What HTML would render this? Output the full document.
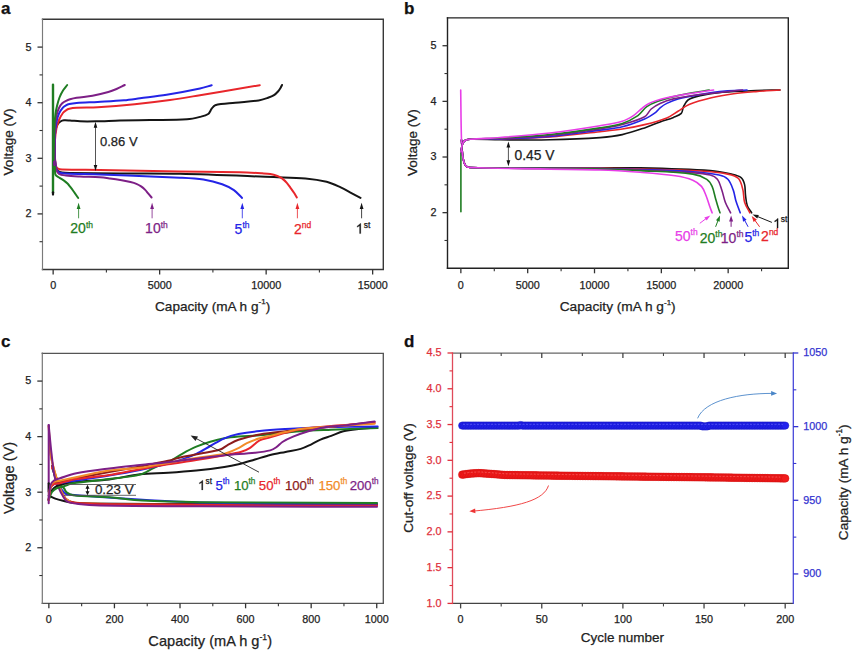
<!DOCTYPE html>
<html><head><meta charset="utf-8"><style>
html,body{margin:0;padding:0;background:#fff;}
svg{display:block;font-family:"Liberation Sans", sans-serif;}
</style></head><body>
<svg width="853" height="651" viewBox="0 0 853 651">
<rect width="853" height="651" fill="#fff"/>
<path d="M42.50,269.50 L383.30,269.50 L383.30,19.30 L42.50,19.30" fill="none" stroke="#383838" stroke-width="1.4" stroke-linejoin="miter" stroke-linecap="square"/>
<line x1="42.50" y1="18.60" x2="42.50" y2="270.20" stroke="#7a7a7a" stroke-width="1.15"/>
<line x1="37.50" y1="213.90" x2="42.50" y2="213.90" stroke="#333" stroke-width="1.3"/>
<text x="31.50" y="217.30" font-size="10.8" text-anchor="end" fill="#222" stroke="#222" stroke-width="0.25" font-weight="normal" >2</text>
<line x1="37.50" y1="158.30" x2="42.50" y2="158.30" stroke="#333" stroke-width="1.3"/>
<text x="31.50" y="161.70" font-size="10.8" text-anchor="end" fill="#222" stroke="#222" stroke-width="0.25" font-weight="normal" >3</text>
<line x1="37.50" y1="102.70" x2="42.50" y2="102.70" stroke="#333" stroke-width="1.3"/>
<text x="31.50" y="106.10" font-size="10.8" text-anchor="end" fill="#222" stroke="#222" stroke-width="0.25" font-weight="normal" >4</text>
<line x1="37.50" y1="47.10" x2="42.50" y2="47.10" stroke="#333" stroke-width="1.3"/>
<text x="31.50" y="50.50" font-size="10.8" text-anchor="end" fill="#222" stroke="#222" stroke-width="0.25" font-weight="normal" >5</text>
<line x1="39.50" y1="241.70" x2="42.50" y2="241.70" stroke="#333" stroke-width="1.1"/>
<line x1="39.50" y1="186.10" x2="42.50" y2="186.10" stroke="#333" stroke-width="1.1"/>
<line x1="39.50" y1="130.50" x2="42.50" y2="130.50" stroke="#333" stroke-width="1.1"/>
<line x1="39.50" y1="74.90" x2="42.50" y2="74.90" stroke="#333" stroke-width="1.1"/>
<line x1="53.15" y1="269.50" x2="53.15" y2="274.50" stroke="#333" stroke-width="1.3"/>
<text x="53.15" y="288.90" font-size="10.8" text-anchor="middle" fill="#222" stroke="#222" stroke-width="0.25" font-weight="normal" >0</text>
<line x1="159.65" y1="269.50" x2="159.65" y2="274.50" stroke="#333" stroke-width="1.3"/>
<text x="159.65" y="288.90" font-size="10.8" text-anchor="middle" fill="#222" stroke="#222" stroke-width="0.25" font-weight="normal" >5000</text>
<line x1="266.15" y1="269.50" x2="266.15" y2="274.50" stroke="#333" stroke-width="1.3"/>
<text x="266.15" y="288.90" font-size="10.8" text-anchor="middle" fill="#222" stroke="#222" stroke-width="0.25" font-weight="normal" >10000</text>
<line x1="372.65" y1="269.50" x2="372.65" y2="274.50" stroke="#333" stroke-width="1.3"/>
<text x="372.65" y="288.90" font-size="10.8" text-anchor="middle" fill="#222" stroke="#222" stroke-width="0.25" font-weight="normal" >15000</text>
<line x1="106.40" y1="269.50" x2="106.40" y2="272.50" stroke="#333" stroke-width="1.1"/>
<line x1="212.90" y1="269.50" x2="212.90" y2="272.50" stroke="#333" stroke-width="1.1"/>
<line x1="319.40" y1="269.50" x2="319.40" y2="272.50" stroke="#333" stroke-width="1.1"/>
<text x="212.60" y="310.60" font-size="13.6" text-anchor="middle" fill="#222" stroke="#222" stroke-width="0.25" font-weight="normal" >Capacity (mA h g<tspan font-size="8" dy="-6.2">-1</tspan><tspan dy="6.2">)</tspan></text>
<text x="13.20" y="142.00" font-size="13.5" text-anchor="middle" fill="#222" stroke="#222" stroke-width="0.25" font-weight="normal" transform="rotate(-90 13.2 142)">Voltage (V)</text>
<text x="1.00" y="13.60" font-size="17" text-anchor="start" fill="#111" stroke="#111" stroke-width="0.25" font-weight="bold" >a</text>
<path d="M447.50,268.30 L788.30,268.30 L788.30,17.90 L447.50,17.90" fill="none" stroke="#222" stroke-width="1.4" stroke-linejoin="miter" stroke-linecap="square"/>
<line x1="447.50" y1="17.20" x2="447.50" y2="269.00" stroke="#222" stroke-width="1.4"/>
<line x1="442.50" y1="212.66" x2="447.50" y2="212.66" stroke="#333" stroke-width="1.3"/>
<text x="436.50" y="216.06" font-size="10.8" text-anchor="end" fill="#222" stroke="#222" stroke-width="0.25" font-weight="normal" >2</text>
<line x1="442.50" y1="157.01" x2="447.50" y2="157.01" stroke="#333" stroke-width="1.3"/>
<text x="436.50" y="160.41" font-size="10.8" text-anchor="end" fill="#222" stroke="#222" stroke-width="0.25" font-weight="normal" >3</text>
<line x1="442.50" y1="101.37" x2="447.50" y2="101.37" stroke="#333" stroke-width="1.3"/>
<text x="436.50" y="104.77" font-size="10.8" text-anchor="end" fill="#222" stroke="#222" stroke-width="0.25" font-weight="normal" >4</text>
<line x1="442.50" y1="45.72" x2="447.50" y2="45.72" stroke="#333" stroke-width="1.3"/>
<text x="436.50" y="49.12" font-size="10.8" text-anchor="end" fill="#222" stroke="#222" stroke-width="0.25" font-weight="normal" >5</text>
<line x1="444.50" y1="240.48" x2="447.50" y2="240.48" stroke="#333" stroke-width="1.1"/>
<line x1="444.50" y1="184.83" x2="447.50" y2="184.83" stroke="#333" stroke-width="1.1"/>
<line x1="444.50" y1="129.19" x2="447.50" y2="129.19" stroke="#333" stroke-width="1.1"/>
<line x1="444.50" y1="73.54" x2="447.50" y2="73.54" stroke="#333" stroke-width="1.1"/>
<line x1="460.86" y1="268.30" x2="460.86" y2="273.30" stroke="#333" stroke-width="1.3"/>
<text x="460.86" y="288.90" font-size="10.8" text-anchor="middle" fill="#222" stroke="#222" stroke-width="0.25" font-weight="normal" >0</text>
<line x1="527.69" y1="268.30" x2="527.69" y2="273.30" stroke="#333" stroke-width="1.3"/>
<text x="527.69" y="288.90" font-size="10.8" text-anchor="middle" fill="#222" stroke="#222" stroke-width="0.25" font-weight="normal" >5000</text>
<line x1="594.51" y1="268.30" x2="594.51" y2="273.30" stroke="#333" stroke-width="1.3"/>
<text x="594.51" y="288.90" font-size="10.8" text-anchor="middle" fill="#222" stroke="#222" stroke-width="0.25" font-weight="normal" >10000</text>
<line x1="661.34" y1="268.30" x2="661.34" y2="273.30" stroke="#333" stroke-width="1.3"/>
<text x="661.34" y="288.90" font-size="10.8" text-anchor="middle" fill="#222" stroke="#222" stroke-width="0.25" font-weight="normal" >15000</text>
<line x1="728.16" y1="268.30" x2="728.16" y2="273.30" stroke="#333" stroke-width="1.3"/>
<text x="728.16" y="288.90" font-size="10.8" text-anchor="middle" fill="#222" stroke="#222" stroke-width="0.25" font-weight="normal" >20000</text>
<line x1="494.28" y1="268.30" x2="494.28" y2="271.30" stroke="#333" stroke-width="1.1"/>
<line x1="561.10" y1="268.30" x2="561.10" y2="271.30" stroke="#333" stroke-width="1.1"/>
<line x1="627.92" y1="268.30" x2="627.92" y2="271.30" stroke="#333" stroke-width="1.1"/>
<line x1="694.75" y1="268.30" x2="694.75" y2="271.30" stroke="#333" stroke-width="1.1"/>
<line x1="761.57" y1="268.30" x2="761.57" y2="271.30" stroke="#333" stroke-width="1.1"/>
<text x="617.70" y="311.00" font-size="13.7" text-anchor="middle" fill="#222" stroke="#222" stroke-width="0.25" font-weight="normal" >Capacity (mA h g<tspan font-size="8" dy="-6.2">-1</tspan><tspan dy="6.2">)</tspan></text>
<text x="416.80" y="142.60" font-size="13.5" text-anchor="middle" fill="#222" stroke="#222" stroke-width="0.25" font-weight="normal" transform="rotate(-90 416.8 142.6)">Voltage (V)</text>
<text x="404.00" y="13.80" font-size="17" text-anchor="start" fill="#111" stroke="#111" stroke-width="0.25" font-weight="bold" >b</text>
<path d="M42.30,603.30 L383.30,603.30 L383.30,353.30 L42.30,353.30" fill="none" stroke="#555" stroke-width="1.35" stroke-linejoin="miter" stroke-linecap="square"/>
<line x1="42.30" y1="352.62" x2="42.30" y2="603.97" stroke="#707070" stroke-width="1.15"/>
<line x1="37.30" y1="547.74" x2="42.30" y2="547.74" stroke="#333" stroke-width="1.3"/>
<text x="31.30" y="551.14" font-size="10.8" text-anchor="end" fill="#222" stroke="#222" stroke-width="0.25" font-weight="normal" >2</text>
<line x1="37.30" y1="492.19" x2="42.30" y2="492.19" stroke="#333" stroke-width="1.3"/>
<text x="31.30" y="495.59" font-size="10.8" text-anchor="end" fill="#222" stroke="#222" stroke-width="0.25" font-weight="normal" >3</text>
<line x1="37.30" y1="436.63" x2="42.30" y2="436.63" stroke="#333" stroke-width="1.3"/>
<text x="31.30" y="440.03" font-size="10.8" text-anchor="end" fill="#222" stroke="#222" stroke-width="0.25" font-weight="normal" >4</text>
<line x1="37.30" y1="381.08" x2="42.30" y2="381.08" stroke="#333" stroke-width="1.3"/>
<text x="31.30" y="384.48" font-size="10.8" text-anchor="end" fill="#222" stroke="#222" stroke-width="0.25" font-weight="normal" >5</text>
<line x1="39.30" y1="575.52" x2="42.30" y2="575.52" stroke="#333" stroke-width="1.1"/>
<line x1="39.30" y1="519.97" x2="42.30" y2="519.97" stroke="#333" stroke-width="1.1"/>
<line x1="39.30" y1="464.41" x2="42.30" y2="464.41" stroke="#333" stroke-width="1.1"/>
<line x1="39.30" y1="408.86" x2="42.30" y2="408.86" stroke="#333" stroke-width="1.1"/>
<line x1="48.86" y1="603.30" x2="48.86" y2="608.30" stroke="#333" stroke-width="1.3"/>
<text x="48.86" y="623.30" font-size="10.8" text-anchor="middle" fill="#222" stroke="#222" stroke-width="0.25" font-weight="normal" >0</text>
<line x1="114.43" y1="603.30" x2="114.43" y2="608.30" stroke="#333" stroke-width="1.3"/>
<text x="114.43" y="623.30" font-size="10.8" text-anchor="middle" fill="#222" stroke="#222" stroke-width="0.25" font-weight="normal" >200</text>
<line x1="180.01" y1="603.30" x2="180.01" y2="608.30" stroke="#333" stroke-width="1.3"/>
<text x="180.01" y="623.30" font-size="10.8" text-anchor="middle" fill="#222" stroke="#222" stroke-width="0.25" font-weight="normal" >400</text>
<line x1="245.59" y1="603.30" x2="245.59" y2="608.30" stroke="#333" stroke-width="1.3"/>
<text x="245.59" y="623.30" font-size="10.8" text-anchor="middle" fill="#222" stroke="#222" stroke-width="0.25" font-weight="normal" >600</text>
<line x1="311.17" y1="603.30" x2="311.17" y2="608.30" stroke="#333" stroke-width="1.3"/>
<text x="311.17" y="623.30" font-size="10.8" text-anchor="middle" fill="#222" stroke="#222" stroke-width="0.25" font-weight="normal" >800</text>
<line x1="376.74" y1="603.30" x2="376.74" y2="608.30" stroke="#333" stroke-width="1.3"/>
<text x="376.74" y="623.30" font-size="10.8" text-anchor="middle" fill="#222" stroke="#222" stroke-width="0.25" font-weight="normal" >1000</text>
<line x1="81.65" y1="603.30" x2="81.65" y2="606.30" stroke="#333" stroke-width="1.1"/>
<line x1="147.22" y1="603.30" x2="147.22" y2="606.30" stroke="#333" stroke-width="1.1"/>
<line x1="212.80" y1="603.30" x2="212.80" y2="606.30" stroke="#333" stroke-width="1.1"/>
<line x1="278.38" y1="603.30" x2="278.38" y2="606.30" stroke="#333" stroke-width="1.1"/>
<line x1="343.95" y1="603.30" x2="343.95" y2="606.30" stroke="#333" stroke-width="1.1"/>
<text x="210.20" y="646.30" font-size="14.6" text-anchor="middle" fill="#222" stroke="#222" stroke-width="0.25" font-weight="normal" >Capacity (mA h g<tspan font-size="8.6" dy="-6">-1</tspan><tspan dy="6">)</tspan></text>
<text x="13.60" y="477.90" font-size="14.6" text-anchor="middle" fill="#222" stroke="#222" stroke-width="0.25" font-weight="normal" transform="rotate(-90 13.6 477.9)">Voltage (V)</text>
<text x="1.00" y="346.70" font-size="17" text-anchor="start" fill="#111" stroke="#111" stroke-width="0.25" font-weight="bold" >c</text>
<line x1="452.50" y1="353.00" x2="793.30" y2="353.00" stroke="#666" stroke-width="1.25"/>
<line x1="452.50" y1="603.40" x2="793.30" y2="603.40" stroke="#444" stroke-width="1.3"/>
<line x1="452.50" y1="352.30" x2="452.50" y2="604.10" stroke="#e04a5a" stroke-width="1.3"/>
<line x1="793.30" y1="352.30" x2="793.30" y2="604.10" stroke="#4040d8" stroke-width="1.25"/>
<line x1="447.50" y1="603.40" x2="452.50" y2="603.40" stroke="#e0303c" stroke-width="1.3"/>
<text x="441.50" y="606.80" font-size="10.8" text-anchor="end" fill="#e0303c" stroke="#e0303c" stroke-width="0.25" font-weight="normal" >1.0</text>
<line x1="449.50" y1="585.51" x2="452.50" y2="585.51" stroke="#e0303c" stroke-width="1.1"/>
<line x1="447.50" y1="567.63" x2="452.50" y2="567.63" stroke="#e0303c" stroke-width="1.3"/>
<text x="441.50" y="571.03" font-size="10.8" text-anchor="end" fill="#e0303c" stroke="#e0303c" stroke-width="0.25" font-weight="normal" >1.5</text>
<line x1="449.50" y1="549.74" x2="452.50" y2="549.74" stroke="#e0303c" stroke-width="1.1"/>
<line x1="447.50" y1="531.86" x2="452.50" y2="531.86" stroke="#e0303c" stroke-width="1.3"/>
<text x="441.50" y="535.26" font-size="10.8" text-anchor="end" fill="#e0303c" stroke="#e0303c" stroke-width="0.25" font-weight="normal" >2.0</text>
<line x1="449.50" y1="513.97" x2="452.50" y2="513.97" stroke="#e0303c" stroke-width="1.1"/>
<line x1="447.50" y1="496.09" x2="452.50" y2="496.09" stroke="#e0303c" stroke-width="1.3"/>
<text x="441.50" y="499.49" font-size="10.8" text-anchor="end" fill="#e0303c" stroke="#e0303c" stroke-width="0.25" font-weight="normal" >2.5</text>
<line x1="449.50" y1="478.20" x2="452.50" y2="478.20" stroke="#e0303c" stroke-width="1.1"/>
<line x1="447.50" y1="460.31" x2="452.50" y2="460.31" stroke="#e0303c" stroke-width="1.3"/>
<text x="441.50" y="463.71" font-size="10.8" text-anchor="end" fill="#e0303c" stroke="#e0303c" stroke-width="0.25" font-weight="normal" >3.0</text>
<line x1="449.50" y1="442.43" x2="452.50" y2="442.43" stroke="#e0303c" stroke-width="1.1"/>
<line x1="447.50" y1="424.54" x2="452.50" y2="424.54" stroke="#e0303c" stroke-width="1.3"/>
<text x="441.50" y="427.94" font-size="10.8" text-anchor="end" fill="#e0303c" stroke="#e0303c" stroke-width="0.25" font-weight="normal" >3.5</text>
<line x1="449.50" y1="406.66" x2="452.50" y2="406.66" stroke="#e0303c" stroke-width="1.1"/>
<line x1="447.50" y1="388.77" x2="452.50" y2="388.77" stroke="#e0303c" stroke-width="1.3"/>
<text x="441.50" y="392.17" font-size="10.8" text-anchor="end" fill="#e0303c" stroke="#e0303c" stroke-width="0.25" font-weight="normal" >4.0</text>
<line x1="449.50" y1="370.89" x2="452.50" y2="370.89" stroke="#e0303c" stroke-width="1.1"/>
<line x1="447.50" y1="353.00" x2="452.50" y2="353.00" stroke="#e0303c" stroke-width="1.3"/>
<text x="441.50" y="356.40" font-size="10.8" text-anchor="end" fill="#e0303c" stroke="#e0303c" stroke-width="0.25" font-weight="normal" >4.5</text>
<line x1="793.30" y1="573.94" x2="798.30" y2="573.94" stroke="#3333d0" stroke-width="1.3"/>
<text x="803.30" y="577.34" font-size="10.8" text-anchor="start" fill="#3333d0" stroke="#3333d0" stroke-width="0.25" font-weight="normal" >900</text>
<line x1="793.30" y1="500.29" x2="798.30" y2="500.29" stroke="#3333d0" stroke-width="1.3"/>
<text x="803.30" y="503.69" font-size="10.8" text-anchor="start" fill="#3333d0" stroke="#3333d0" stroke-width="0.25" font-weight="normal" >950</text>
<line x1="793.30" y1="426.65" x2="798.30" y2="426.65" stroke="#3333d0" stroke-width="1.3"/>
<text x="803.30" y="430.05" font-size="10.8" text-anchor="start" fill="#3333d0" stroke="#3333d0" stroke-width="0.25" font-weight="normal" >1000</text>
<line x1="793.30" y1="353.00" x2="798.30" y2="353.00" stroke="#3333d0" stroke-width="1.3"/>
<text x="803.30" y="356.40" font-size="10.8" text-anchor="start" fill="#3333d0" stroke="#3333d0" stroke-width="0.25" font-weight="normal" >1050</text>
<line x1="793.30" y1="537.12" x2="796.30" y2="537.12" stroke="#3333d0" stroke-width="1.1"/>
<line x1="793.30" y1="463.47" x2="796.30" y2="463.47" stroke="#3333d0" stroke-width="1.1"/>
<line x1="793.30" y1="389.82" x2="796.30" y2="389.82" stroke="#3333d0" stroke-width="1.1"/>
<line x1="460.61" y1="603.40" x2="460.61" y2="608.40" stroke="#444" stroke-width="1.3"/>
<text x="460.61" y="623.30" font-size="10.8" text-anchor="middle" fill="#222" stroke="#222" stroke-width="0.25" font-weight="normal" >0</text>
<line x1="460.61" y1="353.00" x2="460.61" y2="358.00" stroke="#444" stroke-width="1.3"/>
<line x1="541.76" y1="603.40" x2="541.76" y2="608.40" stroke="#444" stroke-width="1.3"/>
<text x="541.76" y="623.30" font-size="10.8" text-anchor="middle" fill="#222" stroke="#222" stroke-width="0.25" font-weight="normal" >50</text>
<line x1="541.76" y1="353.00" x2="541.76" y2="358.00" stroke="#444" stroke-width="1.3"/>
<line x1="622.90" y1="603.40" x2="622.90" y2="608.40" stroke="#444" stroke-width="1.3"/>
<text x="622.90" y="623.30" font-size="10.8" text-anchor="middle" fill="#222" stroke="#222" stroke-width="0.25" font-weight="normal" >100</text>
<line x1="622.90" y1="353.00" x2="622.90" y2="358.00" stroke="#444" stroke-width="1.3"/>
<line x1="704.04" y1="603.40" x2="704.04" y2="608.40" stroke="#444" stroke-width="1.3"/>
<text x="704.04" y="623.30" font-size="10.8" text-anchor="middle" fill="#222" stroke="#222" stroke-width="0.25" font-weight="normal" >150</text>
<line x1="704.04" y1="353.00" x2="704.04" y2="358.00" stroke="#444" stroke-width="1.3"/>
<line x1="785.19" y1="603.40" x2="785.19" y2="608.40" stroke="#444" stroke-width="1.3"/>
<text x="785.19" y="623.30" font-size="10.8" text-anchor="middle" fill="#222" stroke="#222" stroke-width="0.25" font-weight="normal" >200</text>
<line x1="785.19" y1="353.00" x2="785.19" y2="358.00" stroke="#444" stroke-width="1.3"/>
<line x1="501.19" y1="603.40" x2="501.19" y2="606.40" stroke="#444" stroke-width="1.1"/>
<line x1="501.19" y1="353.00" x2="501.19" y2="356.00" stroke="#444" stroke-width="1.1"/>
<line x1="582.33" y1="603.40" x2="582.33" y2="606.40" stroke="#444" stroke-width="1.1"/>
<line x1="582.33" y1="353.00" x2="582.33" y2="356.00" stroke="#444" stroke-width="1.1"/>
<line x1="663.47" y1="603.40" x2="663.47" y2="606.40" stroke="#444" stroke-width="1.1"/>
<line x1="663.47" y1="353.00" x2="663.47" y2="356.00" stroke="#444" stroke-width="1.1"/>
<line x1="744.61" y1="603.40" x2="744.61" y2="606.40" stroke="#444" stroke-width="1.1"/>
<line x1="744.61" y1="353.00" x2="744.61" y2="356.00" stroke="#444" stroke-width="1.1"/>
<text x="622.40" y="642.30" font-size="13.5" text-anchor="middle" fill="#222" stroke="#222" stroke-width="0.25" font-weight="normal" >Cycle number</text>
<text x="412.50" y="478.00" font-size="13.5" text-anchor="middle" fill="#222" stroke="#222" stroke-width="0.25" font-weight="normal" transform="rotate(-90 412.5 478)">Cut-off voltage (V)</text>
<text x="848.00" y="482.30" font-size="13.65" text-anchor="middle" fill="#222" stroke="#222" stroke-width="0.25" font-weight="normal" transform="rotate(-90 848 482.3)">Capacity (mA h g<tspan font-size="8.2" dy="-5.6">-1</tspan><tspan dy="5.6">)</tspan></text>
<text x="404.00" y="346.50" font-size="17" text-anchor="start" fill="#111" stroke="#111" stroke-width="0.25" font-weight="bold" >d</text>
<path d="M53.0,84.7 L53.0,193.0" stroke="#1f7d22" stroke-width="2.4" fill="none" stroke-linecap="round" stroke-linejoin="round" />
<path d="M53.0,192.3 L53.0,194.6" stroke="#151515" stroke-width="2.2" fill="none" stroke-linecap="round" stroke-linejoin="round" />
<path d="M54.50,130.00 C54.67,140.00 54.60,150.02 55.00,160.00 C55.10,162.52 55.35,165.11 56.00,167.50 C56.35,168.77 57.03,170.19 58.00,171.00 C59.03,171.86 60.61,172.27 62.00,172.50 C64.61,172.93 67.33,172.95 70.00,173.00 C86.66,173.29 103.33,173.38 120.00,173.50 C140.00,173.65 160.01,173.33 180.00,173.80 C211.27,174.53 242.54,175.95 273.80,177.10 C284.37,177.49 294.98,177.46 305.50,178.40 C312.58,179.03 319.74,180.05 326.60,181.80 C331.47,183.05 336.09,185.33 340.70,187.40 C343.89,188.83 346.90,190.66 350.00,192.30 C353.50,194.16 357.00,196.03 360.50,197.90" stroke="#151515" stroke-width="2.0" fill="none" stroke-linecap="round" stroke-linejoin="round" />
<path d="M54.50,130.00 C54.67,139.33 54.61,148.68 55.00,158.00 C55.11,160.68 55.29,163.48 56.00,166.00 C56.29,167.05 57.10,168.17 58.00,168.70 C59.10,169.34 60.64,169.46 62.00,169.50 C74.64,169.89 87.33,169.80 100.00,170.00 C126.67,170.43 153.33,170.96 180.00,171.40 C200.00,171.73 220.00,171.84 240.00,172.30 C247.34,172.47 254.67,172.89 262.00,173.30 C264.77,173.46 267.58,173.52 270.30,174.00 C272.71,174.42 275.11,175.14 277.40,176.00 C279.01,176.61 280.61,177.39 282.00,178.40 C283.74,179.66 285.35,181.20 286.80,182.80 C288.18,184.33 289.29,186.12 290.50,187.80 C291.69,189.45 292.89,191.09 294.00,192.80 C294.99,194.33 295.87,195.93 296.80,197.50" stroke="#e8262b" stroke-width="2.0" fill="none" stroke-linecap="round" stroke-linejoin="round" />
<path d="M54.50,130.00 C54.67,140.00 54.49,150.03 55.00,160.00 C55.16,163.03 55.59,166.17 56.50,169.00 C56.93,170.33 57.83,171.88 59.00,172.50 C60.66,173.38 62.98,173.40 65.00,173.50 C76.64,174.07 88.34,174.07 100.00,174.50 C126.67,175.47 153.35,176.39 180.00,177.70 C187.82,178.09 195.69,178.39 203.40,179.60 C209.76,180.59 216.13,182.19 222.20,184.30 C226.30,185.73 230.33,187.76 233.90,190.20 C236.96,192.29 239.37,195.33 242.10,197.90" stroke="#2424e6" stroke-width="2.0" fill="none" stroke-linecap="round" stroke-linejoin="round" />
<path d="M54.50,130.00 C54.67,140.00 54.50,150.03 55.00,160.00 C55.17,163.36 55.59,166.82 56.50,170.00 C56.92,171.48 57.74,173.27 59.00,174.00 C60.91,175.11 63.64,175.22 66.00,175.50 C70.64,176.05 75.33,176.25 80.00,176.50 C86.66,176.85 93.35,176.86 100.00,177.30 C103.35,177.52 106.67,178.04 110.00,178.50 C113.91,179.04 117.81,179.64 121.70,180.30 C124.64,180.80 127.60,181.31 130.50,182.00 C132.50,182.48 134.51,183.02 136.40,183.80 C138.04,184.48 139.64,185.39 141.10,186.40 C142.57,187.42 143.93,188.63 145.20,189.90 C146.27,190.97 147.12,192.24 148.10,193.40 C149.26,194.77 150.43,196.13 151.60,197.50" stroke="#7d1f86" stroke-width="2.0" fill="none" stroke-linecap="round" stroke-linejoin="round" />
<path d="M54.00,150.00 C54.33,156.67 54.60,163.34 55.00,170.00 C55.10,171.61 54.80,173.50 55.50,174.80 C56.14,176.00 57.78,176.67 59.00,177.50 C60.62,178.60 62.40,179.47 64.00,180.60 C65.23,181.47 66.43,182.43 67.50,183.50 C68.53,184.53 69.39,185.75 70.30,186.90 C71.23,188.08 72.13,189.28 73.00,190.50 C73.89,191.75 74.73,193.04 75.60,194.30 C76.46,195.54 77.33,196.77 78.20,198.00" stroke="#1f7d22" stroke-width="2.0" fill="none" stroke-linecap="round" stroke-linejoin="round" />
<path d="M54.50,165.00 C54.60,156.67 54.56,148.33 54.80,140.00 C54.90,136.66 54.93,133.26 55.50,130.00 C55.83,128.10 56.53,126.14 57.50,124.50 C58.20,123.31 59.34,122.25 60.50,121.50 C61.51,120.85 62.79,120.43 64.00,120.30 C65.96,120.09 68.00,120.38 70.00,120.50 C73.34,120.71 76.66,121.20 80.00,121.30 C85.33,121.46 90.67,121.41 96.00,121.30 C104.00,121.14 112.00,120.69 120.00,120.50 C130.00,120.26 140.00,120.18 150.00,120.00 C162.33,119.78 174.72,120.06 187.00,119.30 C191.39,119.03 195.74,117.97 200.00,116.90 C202.80,116.20 205.95,115.58 208.20,114.00 C209.85,112.85 210.39,110.35 211.70,108.70 C212.72,107.42 213.65,105.59 215.20,105.20 C221.49,103.62 228.52,103.52 235.20,102.80 C242.99,101.96 250.88,101.68 258.60,100.50 C261.81,100.01 264.92,98.86 268.00,97.80 C270.06,97.09 272.18,96.35 274.00,95.20 C275.52,94.25 276.79,92.84 278.00,91.50 C278.96,90.44 279.75,89.22 280.50,88.00 C281.08,87.05 281.50,86.00 282.00,85.00" stroke="#151515" stroke-width="2.0" fill="none" stroke-linecap="round" stroke-linejoin="round" />
<path d="M54.50,165.00 C54.67,156.67 54.55,148.31 55.00,140.00 C55.22,135.98 55.71,131.94 56.50,128.00 C57.05,125.27 57.91,122.56 59.00,120.00 C60.04,117.56 61.36,115.14 62.90,113.00 C63.69,111.90 64.87,111.04 66.00,110.30 C67.00,109.64 68.13,109.07 69.30,108.80 C71.67,108.24 74.15,107.94 76.60,107.80 C83.62,107.40 90.68,107.64 97.70,107.20 C110.05,106.44 122.39,105.43 134.70,104.20 C146.49,103.03 158.26,101.62 170.00,100.00 C180.03,98.62 190.01,96.85 200.00,95.20 C219.94,91.91 239.87,88.53 259.80,85.20" stroke="#e8262b" stroke-width="2.0" fill="none" stroke-linecap="round" stroke-linejoin="round" />
<path d="M54.50,165.00 C54.67,155.00 54.54,144.98 55.00,135.00 C55.20,130.65 55.70,126.27 56.50,122.00 C57.04,119.11 57.81,116.16 59.00,113.50 C59.94,111.40 61.41,109.45 62.90,107.70 C63.74,106.72 64.88,105.95 66.00,105.30 C67.01,104.71 68.15,104.25 69.30,104.00 C71.69,103.48 74.15,103.18 76.60,103.00 C83.62,102.48 90.67,102.30 97.70,101.90 C106.47,101.40 115.25,101.04 124.00,100.30 C129.35,99.84 134.67,98.99 140.00,98.30 C148.87,97.15 157.78,96.24 166.60,94.80 C177.78,92.97 188.93,90.86 200.00,88.50 C203.96,87.66 207.80,86.30 211.70,85.20" stroke="#2424e6" stroke-width="2.0" fill="none" stroke-linecap="round" stroke-linejoin="round" />
<path d="M54.50,165.00 C54.67,152.67 54.48,140.31 55.00,128.00 C55.18,123.64 55.75,119.26 56.60,115.00 C57.08,112.59 57.96,110.21 59.00,108.00 C59.76,106.38 60.76,104.76 62.00,103.50 C63.13,102.36 64.66,101.56 66.10,100.80 C67.33,100.16 68.66,99.68 70.00,99.30 C72.16,98.68 74.37,98.16 76.60,97.80 C81.87,96.96 87.25,96.66 92.50,95.70 C97.81,94.73 103.10,93.45 108.30,92.00 C111.10,91.22 113.82,90.14 116.50,89.00 C119.32,87.80 122.03,86.33 124.80,85.00" stroke="#7d1f86" stroke-width="2.0" fill="none" stroke-linecap="round" stroke-linejoin="round" />
<path d="M53.50,160.00 C53.83,148.33 53.99,136.66 54.50,125.00 C54.66,121.32 55.02,117.65 55.50,114.00 C55.85,111.31 56.36,108.63 57.00,106.00 C57.69,103.13 58.44,100.24 59.50,97.50 C60.44,95.08 61.64,92.71 63.00,90.50 C64.20,88.54 65.80,86.83 67.20,85.00" stroke="#1f7d22" stroke-width="2.0" fill="none" stroke-linecap="round" stroke-linejoin="round" />
<line x1="95.50" y1="146.00" x2="95.50" y2="126.80" stroke="#555" stroke-width="1.0"/>
<path d="M95.50,121.80 L97.30,127.80 L93.70,127.80 Z" fill="#111"/>
<line x1="95.50" y1="146.00" x2="95.50" y2="165.90" stroke="#555" stroke-width="1.0"/>
<path d="M95.50,170.90 L93.70,164.90 L97.30,164.90 Z" fill="#111"/>
<text x="100.00" y="146.00" font-size="13" text-anchor="start" fill="#222" stroke="#222" stroke-width="0.25" font-weight="normal" >0.86 V</text>
<line x1="78.60" y1="218.30" x2="78.60" y2="207.90" stroke="#1f7d22" stroke-width="0.8"/>
<path d="M78.60,202.70 L80.50,208.90 L76.70,208.90 Z" fill="#1f7d22"/>
<line x1="152.10" y1="218.30" x2="152.10" y2="207.90" stroke="#7d1f86" stroke-width="0.8"/>
<path d="M152.10,202.70 L154.00,208.90 L150.20,208.90 Z" fill="#7d1f86"/>
<line x1="242.30" y1="218.30" x2="242.30" y2="207.90" stroke="#2424e6" stroke-width="0.8"/>
<path d="M242.30,202.70 L244.20,208.90 L240.40,208.90 Z" fill="#2424e6"/>
<line x1="297.40" y1="218.30" x2="297.40" y2="207.90" stroke="#e8262b" stroke-width="0.8"/>
<path d="M297.40,202.70 L299.30,208.90 L295.50,208.90 Z" fill="#e8262b"/>
<line x1="361.60" y1="218.30" x2="361.60" y2="207.90" stroke="#151515" stroke-width="0.8"/>
<path d="M361.60,202.70 L363.50,208.90 L359.70,208.90 Z" fill="#151515"/>
<text x="70.30" y="233.20" font-size="14" fill="#1f7d22" stroke="#1f7d22" stroke-width="0.25" text-anchor="start">20<tspan font-size="8.5" dy="-5.6">th</tspan></text>
<text x="145.10" y="233.20" font-size="14" fill="#7d1f86" stroke="#7d1f86" stroke-width="0.25" text-anchor="start">10<tspan font-size="8.5" dy="-5.6">th</tspan></text>
<text x="234.60" y="233.50" font-size="14" fill="#2424e6" stroke="#2424e6" stroke-width="0.25" text-anchor="start">5<tspan font-size="8.5" dy="-5.6">th</tspan></text>
<text x="293.90" y="233.50" font-size="14" fill="#e8262b" stroke="#e8262b" stroke-width="0.25" text-anchor="start">2<tspan font-size="8.5" dy="-5.6">nd</tspan></text>
<path d=" M360.81,233.60 L359.58,233.60 L359.58,225.76 C359.28,226.04 358.89,226.32 358.42,226.60 C357.94,226.88 357.51,227.09 357.13,227.23 L357.13,226.04 C357.82,225.72 358.42,225.32 358.94,224.86 C359.45,224.41 359.81,223.96 360.02,223.54 L360.81,223.54 Z" fill="#151515" stroke="#151515" stroke-width="0.25"/>
<text x="363.69" y="228.00" font-size="8.5" fill="#151515" stroke="#151515" stroke-width="0.25">st</text>
<path d="M460.9,211.7 L460.9,150.0" stroke="#1f7d22" stroke-width="1.6" fill="none" stroke-linecap="round" stroke-linejoin="round" />
<path d="M461.50,140.00 C462.00,146.00 462.07,152.09 463.00,158.00 C463.41,160.59 464.06,163.55 465.50,165.50 C466.40,166.72 468.36,167.47 470.00,167.50 C513.20,168.30 556.67,167.90 600.00,168.00 C613.33,168.03 626.67,167.59 640.00,167.90 C663.44,168.45 686.94,169.02 710.30,170.60 C717.40,171.08 724.47,172.53 731.40,174.10 C734.74,174.86 738.60,175.61 741.10,177.60 C743.00,179.11 743.98,182.11 744.60,184.60 C745.45,187.98 745.05,191.69 745.50,195.20 C745.95,198.72 746.14,202.41 747.30,205.70 C748.21,208.28 750.23,210.43 751.70,212.80" stroke="#151515" stroke-width="1.6" fill="none" stroke-linecap="round" stroke-linejoin="round" />
<path d="M461.50,140.00 C462.00,146.00 462.07,152.09 463.00,158.00 C463.41,160.59 464.06,163.55 465.50,165.50 C466.40,166.72 468.36,167.47 470.00,167.50 C513.20,168.40 556.67,167.92 600.00,168.30 C613.33,168.42 626.67,168.64 640.00,169.00 C660.00,169.54 680.04,169.84 700.00,171.00 C709.34,171.54 718.79,172.33 727.90,174.10 C731.62,174.83 736.08,175.95 738.50,178.50 C741.08,181.22 741.89,185.98 742.90,189.90 C743.92,193.88 743.41,198.29 744.60,202.20 C745.74,205.93 748.13,209.27 749.90,212.80" stroke="#e8262b" stroke-width="1.6" fill="none" stroke-linecap="round" stroke-linejoin="round" />
<path d="M461.50,140.00 C462.00,146.00 462.07,152.09 463.00,158.00 C463.41,160.59 464.06,163.55 465.50,165.50 C466.40,166.72 468.36,167.46 470.00,167.50 C513.20,168.46 556.67,167.99 600.00,168.50 C613.34,168.66 626.67,169.06 640.00,169.50 C656.67,170.06 673.37,170.34 690.00,171.50 C699.74,172.18 709.63,173.05 719.10,175.00 C722.26,175.65 725.77,177.05 727.90,179.30 C730.47,182.02 731.82,186.22 733.20,189.90 C734.46,193.26 734.75,196.96 735.80,200.40 C737.08,204.59 738.73,208.67 740.20,212.80" stroke="#2424e6" stroke-width="1.6" fill="none" stroke-linecap="round" stroke-linejoin="round" />
<path d="M461.50,140.00 C462.00,146.00 462.07,152.09 463.00,158.00 C463.41,160.59 464.06,163.55 465.50,165.50 C466.40,166.72 468.36,167.46 470.00,167.50 C513.20,168.56 556.67,168.16 600.00,168.80 C613.34,169.00 626.67,169.45 640.00,170.00 C656.67,170.69 673.36,171.32 690.00,172.50 C696.80,172.98 703.80,173.39 710.30,175.00 C712.94,175.65 715.79,177.22 717.40,179.30 C719.62,182.18 720.55,186.29 721.80,189.90 C723.19,193.92 723.78,198.24 725.30,202.20 C726.71,205.87 728.83,209.27 730.60,212.80" stroke="#7d1f86" stroke-width="1.6" fill="none" stroke-linecap="round" stroke-linejoin="round" />
<path d="M461.50,140.00 C462.00,146.00 462.07,152.09 463.00,158.00 C463.41,160.59 464.06,163.55 465.50,165.50 C466.40,166.72 468.36,167.46 470.00,167.50 C513.20,168.62 556.67,168.21 600.00,169.00 C613.34,169.24 626.68,169.87 640.00,170.60 C657.61,171.57 675.43,171.84 692.80,174.10 C697.70,174.74 702.76,176.73 706.80,179.30 C709.20,180.83 710.90,183.75 712.10,186.40 C713.83,190.22 714.42,194.60 715.60,198.70 C716.45,201.64 717.29,204.58 718.20,207.50 C718.76,209.28 719.40,211.03 720.00,212.80" stroke="#1f7d22" stroke-width="1.6" fill="none" stroke-linecap="round" stroke-linejoin="round" />
<path d="M460.70,90.00 C460.97,106.67 460.94,123.35 461.50,140.00 C461.70,146.01 462.07,152.09 463.00,158.00 C463.41,160.59 464.06,163.55 465.50,165.50 C466.40,166.72 468.36,167.45 470.00,167.50 C513.20,168.95 556.68,168.78 600.00,170.00 C613.35,170.38 626.69,171.27 640.00,172.30 C651.75,173.21 663.57,174.06 675.20,175.80 C681.17,176.69 687.28,177.98 692.80,180.20 C696.05,181.51 699.23,183.80 701.50,186.40 C703.59,188.80 704.65,192.18 705.90,195.20 C707.31,198.61 708.27,202.21 709.50,205.70 C710.34,208.08 711.23,210.43 712.10,212.80" stroke="#e83ee8" stroke-width="1.6" fill="none" stroke-linecap="round" stroke-linejoin="round" />
<path d="M461.00,152.00 C461.50,149.33 461.63,146.51 462.50,144.00 C462.96,142.67 463.86,141.21 465.00,140.50 C466.36,139.65 468.29,139.33 470.00,139.30 C479.96,139.10 490.00,139.74 500.00,139.80 C516.67,139.90 533.34,140.17 550.00,139.80 C566.67,139.43 583.37,138.80 600.00,137.60 C607.47,137.06 614.99,136.19 622.30,134.60 C629.86,132.96 637.25,130.37 644.60,127.90 C649.85,126.14 654.89,123.79 660.10,121.90 C664.53,120.29 669.14,119.15 673.50,117.40 C676.20,116.32 679.45,115.38 681.30,113.40 C682.79,111.81 682.46,108.78 683.50,106.70 C684.69,104.32 685.86,101.42 688.00,100.00 C691.43,97.72 696.00,96.54 700.20,95.60 C707.50,93.97 715.02,92.98 722.50,92.30 C733.59,91.28 744.76,90.95 755.90,90.50 C763.93,90.18 771.97,90.17 780.00,90.00" stroke="#151515" stroke-width="1.6" fill="none" stroke-linecap="round" stroke-linejoin="round" />
<path d="M461.00,152.00 C461.50,149.33 461.63,146.51 462.50,144.00 C462.96,142.67 463.86,141.21 465.00,140.50 C466.36,139.65 468.29,139.37 470.00,139.30 C479.96,138.87 490.00,139.29 500.00,139.00 C516.67,138.52 533.37,138.21 550.00,137.00 C566.71,135.78 583.34,133.54 600.00,131.70 C607.44,130.88 614.91,130.18 622.30,129.00 C629.78,127.81 637.26,126.43 644.60,124.60 C652.09,122.73 659.68,120.76 666.80,117.90 C670.81,116.29 674.27,113.44 678.00,111.20 C681.70,108.97 685.12,106.10 689.10,104.50 C696.25,101.63 703.86,99.61 711.40,97.80 C718.73,96.04 726.23,94.84 733.70,93.80 C741.06,92.77 748.49,92.21 755.90,91.60 C763.92,90.94 771.97,90.53 780.00,90.00" stroke="#e8262b" stroke-width="1.6" fill="none" stroke-linecap="round" stroke-linejoin="round" />
<path d="M461.00,152.00 C461.50,149.33 461.63,146.51 462.50,144.00 C462.96,142.67 463.86,141.21 465.00,140.50 C466.36,139.65 468.29,139.37 470.00,139.30 C479.96,138.87 490.01,139.35 500.00,139.00 C516.67,138.42 533.39,137.98 550.00,136.50 C566.72,135.01 583.35,132.33 600.00,130.10 C607.45,129.10 615.04,128.61 622.30,126.80 C629.91,124.91 637.41,122.12 644.60,119.00 C648.54,117.29 652.22,114.81 655.70,112.30 C657.39,111.08 658.47,109.10 660.10,107.80 C662.17,106.14 664.42,104.58 666.80,103.40 C670.39,101.62 674.13,99.93 678.00,98.90 C685.26,96.97 692.76,95.74 700.20,94.50 C708.36,93.14 716.57,91.89 724.80,91.10 C732.17,90.39 739.60,90.37 747.00,90.00" stroke="#2424e6" stroke-width="1.6" fill="none" stroke-linecap="round" stroke-linejoin="round" />
<path d="M461.00,152.00 C461.50,149.33 461.63,146.51 462.50,144.00 C462.96,142.67 463.86,141.21 465.00,140.50 C466.36,139.65 468.29,139.40 470.00,139.30 C479.96,138.73 490.01,138.97 500.00,138.50 C516.68,137.71 533.39,137.08 550.00,135.50 C566.72,133.91 583.39,131.50 600.00,129.00 C607.49,127.87 615.01,126.59 622.30,124.60 C629.88,122.53 637.88,120.43 644.60,116.80 C647.51,115.23 648.65,111.20 651.20,109.00 C653.82,106.73 656.93,104.84 660.10,103.40 C664.36,101.47 668.91,99.92 673.50,98.90 C682.28,96.95 691.26,95.65 700.20,94.50 C714.29,92.69 728.47,91.50 742.60,90.00" stroke="#7d1f86" stroke-width="1.6" fill="none" stroke-linecap="round" stroke-linejoin="round" />
<path d="M461.00,152.00 C461.50,149.33 461.63,146.51 462.50,144.00 C462.96,142.67 463.86,141.21 465.00,140.50 C466.36,139.65 468.29,139.42 470.00,139.30 C479.96,138.59 490.01,138.60 500.00,138.00 C516.68,137.00 533.38,136.18 550.00,134.50 C566.72,132.81 583.39,130.45 600.00,127.90 C607.49,126.75 615.15,125.72 622.30,123.40 C627.78,121.62 633.16,118.83 637.90,115.60 C641.32,113.27 643.44,109.12 646.80,106.70 C650.11,104.32 654.03,102.58 657.90,101.20 C664.43,98.88 671.21,97.08 678.00,95.60 C688.31,93.35 698.80,91.87 709.20,90.00" stroke="#1f7d22" stroke-width="1.6" fill="none" stroke-linecap="round" stroke-linejoin="round" />
<path d="M461.00,152.00 C461.50,149.33 461.63,146.51 462.50,144.00 C462.96,142.67 463.86,141.21 465.00,140.50 C466.36,139.65 468.30,139.45 470.00,139.30 C479.96,138.45 490.01,138.29 500.00,137.50 C516.68,136.19 533.39,134.96 550.00,133.00 C566.72,131.03 583.38,128.41 600.00,125.70 C607.48,124.48 615.10,123.38 622.30,121.20 C626.23,120.01 629.94,117.83 633.40,115.60 C636.24,113.77 638.52,111.10 641.20,109.00 C643.72,107.03 646.10,104.67 649.00,103.40 C654.63,100.94 660.76,99.25 666.80,97.80 C674.13,96.05 681.65,95.04 689.10,93.80 C697.25,92.44 705.43,91.27 713.60,90.00" stroke="#e83ee8" stroke-width="1.6" fill="none" stroke-linecap="round" stroke-linejoin="round" />
<line x1="508.40" y1="153.00" x2="508.40" y2="146.60" stroke="#555" stroke-width="1.0"/>
<path d="M508.40,141.60 L510.30,147.60 L506.50,147.60 Z" fill="#111"/>
<line x1="508.40" y1="153.00" x2="508.40" y2="161.20" stroke="#555" stroke-width="1.0"/>
<path d="M508.40,166.20 L506.50,160.20 L510.30,160.20 Z" fill="#111"/>
<text x="514.60" y="159.70" font-size="13.8" text-anchor="start" fill="#222" stroke="#222" stroke-width="0.25" font-weight="normal" >0.45 V</text>
<line x1="699.80" y1="223.30" x2="706.30" y2="218.41" stroke="#e83ee8" stroke-width="1.0"/>
<path d="M710.30,215.40 L706.71,220.61 L704.30,217.41 Z" fill="#e83ee8"/>
<line x1="715.60" y1="226.80" x2="718.20" y2="220.06" stroke="#1f7d22" stroke-width="1.0"/>
<path d="M720.00,215.40 L719.71,221.72 L715.97,220.28 Z" fill="#1f7d22"/>
<line x1="731.10" y1="226.80" x2="731.10" y2="220.40" stroke="#7d1f86" stroke-width="1.0"/>
<path d="M731.10,215.40 L733.10,221.40 L729.10,221.40 Z" fill="#7d1f86"/>
<line x1="748.10" y1="226.80" x2="744.36" y2="219.81" stroke="#2424e6" stroke-width="1.0"/>
<path d="M742.00,215.40 L746.59,219.75 L743.07,221.63 Z" fill="#2424e6"/>
<line x1="759.60" y1="226.80" x2="754.63" y2="219.95" stroke="#e8262b" stroke-width="1.0"/>
<path d="M751.70,215.90 L756.84,219.58 L753.60,221.93 Z" fill="#e8262b"/>
<line x1="771.90" y1="222.40" x2="757.13" y2="216.39" stroke="#151515" stroke-width="1.0"/>
<path d="M752.50,214.50 L758.81,214.91 L757.30,218.62 Z" fill="#151515"/>
<text x="675.00" y="240.90" font-size="14" fill="#e83ee8" stroke="#e83ee8" stroke-width="0.25" text-anchor="start">50<tspan font-size="8.5" dy="-5.6">th</tspan></text>
<text x="699.70" y="242.60" font-size="14" fill="#1f7d22" stroke="#1f7d22" stroke-width="0.25" text-anchor="start">20<tspan font-size="8.5" dy="-5.6">th</tspan></text>
<text x="720.80" y="242.60" font-size="14" fill="#7d1f86" stroke="#7d1f86" stroke-width="0.25" text-anchor="start">10<tspan font-size="8.5" dy="-5.6">th</tspan></text>
<text x="744.40" y="241.50" font-size="14" fill="#2424e6" stroke="#2424e6" stroke-width="0.25" text-anchor="start">5<tspan font-size="8.5" dy="-5.6">th</tspan></text>
<text x="761.10" y="240.90" font-size="14" fill="#e8262b" stroke="#e8262b" stroke-width="0.25" text-anchor="start">2<tspan font-size="8.5" dy="-5.6">nd</tspan></text>
<path d=" M778.13,228.00 L776.97,228.00 L776.97,220.61 C776.69,220.87 776.32,221.14 775.87,221.40 C775.42,221.66 775.01,221.86 774.66,221.99 L774.66,220.87 C775.31,220.57 775.88,220.19 776.36,219.76 C776.85,219.33 777.19,218.91 777.39,218.51 L778.13,218.51 Z" fill="#151515" stroke="#151515" stroke-width="0.25"/>
<text x="780.84" y="222.40" font-size="8.5" fill="#151515" stroke="#151515" stroke-width="0.25">st</text>
<path d="M48.70,495.60 C50.90,496.60 53.04,497.78 55.30,498.60 C57.80,499.51 60.41,500.16 63.00,500.80 C65.64,501.46 68.30,502.17 71.00,502.50 C75.63,503.07 80.32,503.45 85.00,503.50 C123.32,503.95 161.67,503.89 200.00,504.00 C259.00,504.16 318.00,504.20 377.00,504.30" stroke="#151515" stroke-width="2.0" fill="none" stroke-linecap="round" stroke-linejoin="round" />
<path d="M48.70,426.00 C49.37,435.63 49.24,445.39 50.70,454.90 C51.97,463.19 54.51,471.34 56.90,479.40 C58.14,483.57 59.89,487.60 61.60,491.60 C62.55,493.83 63.39,496.30 64.90,498.10 C66.12,499.56 67.97,500.79 69.80,501.40 C72.90,502.43 76.37,502.79 79.70,503.00 C89.50,503.62 99.36,503.76 109.20,503.90 C139.46,504.33 169.73,504.54 200.00,504.70 C259.00,505.01 318.00,505.10 377.00,505.30" stroke="#f28c28" stroke-width="2.0" fill="none" stroke-linecap="round" stroke-linejoin="round" />
<path d="M52.00,466.00 C54.00,471.33 55.96,476.68 58.00,482.00 C59.29,485.35 60.52,488.74 62.00,492.00 C63.02,494.24 63.94,496.70 65.50,498.50 C66.77,499.96 68.64,501.19 70.50,501.80 C73.48,502.79 76.80,503.10 80.00,503.30 C89.70,503.90 99.46,504.09 109.20,504.20 C139.46,504.53 169.73,504.52 200.00,504.60 C259.00,504.75 318.00,504.80 377.00,504.90" stroke="#8c1c1c" stroke-width="2.0" fill="none" stroke-linecap="round" stroke-linejoin="round" />
<path d="M52.00,468.00 C53.83,472.33 55.73,476.64 57.50,481.00 C58.93,484.51 60.10,488.13 61.60,491.60 C62.56,493.83 63.40,496.27 64.90,498.10 C66.14,499.61 67.96,500.93 69.80,501.60 C72.89,502.73 76.36,503.26 79.70,503.50 C89.49,504.20 99.36,504.27 109.20,504.40 C139.46,504.80 169.73,504.96 200.00,505.10 C259.00,505.36 318.00,505.43 377.00,505.60" stroke="#e8262b" stroke-width="2.0" fill="none" stroke-linecap="round" stroke-linejoin="round" />
<path d="M53.00,470.00 C54.33,474.00 55.28,478.18 57.00,482.00 C58.28,484.85 60.11,487.51 62.00,490.00 C63.15,491.51 64.48,493.18 66.10,494.00 C67.65,494.78 69.69,494.64 71.50,494.80 C80.99,495.64 90.49,496.43 100.00,497.00 C133.32,499.00 166.63,501.72 200.00,502.50 C258.97,503.88 318.00,503.17 377.00,503.50" stroke="#2424e6" stroke-width="2.0" fill="none" stroke-linecap="round" stroke-linejoin="round" />
<path d="M53.00,468.00 C53.77,471.30 54.00,474.84 55.30,477.90 C56.34,480.34 58.27,482.44 60.00,484.50 C61.10,485.81 62.71,486.69 63.80,488.00 C64.91,489.32 65.28,491.38 66.60,492.40 C68.38,493.78 70.78,494.93 73.10,495.20 C84.98,496.57 97.19,496.36 109.20,497.30 C120.19,498.16 131.10,500.01 142.10,500.60 C161.37,501.64 180.69,502.00 200.00,502.20 C258.99,502.80 318.00,502.73 377.00,503.00" stroke="#1f7d22" stroke-width="2.0" fill="none" stroke-linecap="round" stroke-linejoin="round" />
<path d="M48.70,426.00 C49.37,435.63 49.24,445.39 50.70,454.90 C51.97,463.19 54.51,471.34 56.90,479.40 C58.14,483.57 59.89,487.60 61.60,491.60 C62.55,493.83 63.39,496.30 64.90,498.10 C66.12,499.56 68.17,500.30 69.80,501.40" stroke="#f28c28" stroke-width="2.0" fill="none" stroke-linecap="round" stroke-linejoin="round" />
<path d="M48.70,425.00 C49.63,434.47 50.42,443.95 51.50,453.40 C52.38,461.08 53.06,468.86 54.60,476.40 C55.36,480.09 56.93,483.62 58.40,487.10 C59.73,490.25 61.19,493.42 63.00,496.30 C64.25,498.29 65.59,500.70 67.60,501.70 C70.73,503.26 74.75,503.57 78.40,504.00 C85.55,504.84 92.79,505.36 100.00,505.50 C133.32,506.13 166.67,506.14 200.00,506.30 C259.00,506.58 318.00,506.63 377.00,506.80" stroke="#7d1f86" stroke-width="2.0" fill="none" stroke-linecap="round" stroke-linejoin="round" />
<path d="M48.7,425.0 L48.7,503.2" stroke="#7d1f86" stroke-width="2.0" fill="none" stroke-linecap="round" stroke-linejoin="round" />
<path d="M48.7,483.3 L48.7,491.7" stroke="#151515" stroke-width="2.0" fill="none" stroke-linecap="round" stroke-linejoin="round" />
<path d="M48.70,500.00 C49.30,497.67 49.54,495.17 50.50,493.00 C51.31,491.17 52.50,489.29 54.00,488.00 C55.67,486.56 57.83,485.38 60.00,484.80 C65.30,483.38 70.89,482.60 76.40,482.00 C87.29,480.80 98.32,480.73 109.20,479.40 C119.52,478.13 129.67,475.36 140.00,474.20 C149.30,473.16 158.74,473.40 168.10,472.80 C177.51,472.20 186.92,471.55 196.30,470.60 C205.69,469.65 215.07,468.49 224.40,467.10 C229.14,466.39 233.85,465.45 238.50,464.30 C244.05,462.92 249.50,461.11 255.00,459.50 C260.07,458.01 265.08,456.28 270.20,455.00 C275.24,453.74 280.40,452.92 285.50,451.90 C290.56,450.89 295.77,450.35 300.70,448.90 C304.40,447.81 307.88,445.94 311.40,444.30 C314.48,442.87 317.38,441.02 320.50,439.70 C323.98,438.22 327.65,437.20 331.20,435.90 C335.28,434.40 339.21,432.36 343.40,431.30 C348.34,430.06 353.51,429.58 358.60,429.00 C364.68,428.31 370.80,428.00 376.90,427.50" stroke="#151515" stroke-width="2.0" fill="none" stroke-linecap="round" stroke-linejoin="round" />
<path d="M48.70,500.00 C49.80,497.33 50.41,494.30 52.00,492.00 C53.18,490.30 55.12,488.91 57.00,488.00 C59.06,487.01 61.56,486.97 63.80,486.30 C66.76,485.41 69.55,483.79 72.60,483.30 C84.68,481.36 97.02,480.57 109.20,479.00 C119.48,477.67 130.04,477.08 140.00,474.60 C145.01,473.35 149.33,469.91 154.10,467.80 C158.70,465.77 163.62,464.43 168.10,462.20 C172.98,459.77 177.41,456.43 182.20,453.80 C186.81,451.27 191.47,448.76 196.30,446.70 C200.84,444.76 205.57,443.21 210.30,441.80 C214.93,440.41 219.65,439.18 224.40,438.30 C229.05,437.44 233.78,437.00 238.50,436.60 C245.52,436.00 252.58,435.90 259.60,435.30 C273.31,434.13 286.98,432.35 300.70,431.30 C310.85,430.52 321.03,430.24 331.20,429.80 C346.70,429.14 362.20,428.60 377.70,428.00" stroke="#1f7d22" stroke-width="2.0" fill="none" stroke-linecap="round" stroke-linejoin="round" />
<path d="M48.70,500.00 C49.30,496.00 49.27,491.71 50.50,488.00 C51.04,486.38 52.52,484.78 54.00,484.00 C55.69,483.11 58.00,483.31 60.00,483.00 C76.40,480.48 92.83,478.16 109.20,475.50 C119.49,473.83 129.78,472.06 140.00,470.00 C149.41,468.10 158.79,465.94 168.10,463.60 C172.85,462.41 177.57,461.01 182.20,459.40 C186.97,457.74 191.74,455.97 196.30,453.80 C201.11,451.51 205.62,448.58 210.30,446.00 C214.99,443.41 219.49,440.37 224.40,438.30 C228.89,436.40 233.71,435.09 238.50,434.10 C245.44,432.66 252.54,431.77 259.60,431.00 C268.20,430.07 276.86,429.54 285.50,429.00 C295.66,428.37 305.83,427.87 316.00,427.50 C326.13,427.13 336.27,426.96 346.40,426.80 C356.83,426.63 367.27,426.60 377.70,426.50" stroke="#2424e6" stroke-width="2.0" fill="none" stroke-linecap="round" stroke-linejoin="round" />
<path d="M48.70,500.00 C49.30,495.67 49.27,491.07 50.50,487.00 C51.04,485.23 52.47,483.39 54.00,482.50 C55.63,481.55 58.01,481.88 60.00,481.50 C76.41,478.38 92.79,475.10 109.20,472.00 C119.45,470.06 129.75,468.35 140.00,466.40 C149.38,464.62 158.79,462.90 168.10,460.80 C172.85,459.73 177.44,457.94 182.20,456.90 C189.17,455.37 196.29,454.47 203.30,453.10 C208.95,452.00 214.79,451.27 220.20,449.50 C222.76,448.67 224.80,446.58 227.20,445.30 C230.90,443.32 234.53,441.02 238.50,439.70 C245.33,437.42 252.48,435.77 259.60,434.50 C268.15,432.97 276.85,432.23 285.50,431.30 C300.72,429.66 315.98,428.41 331.20,426.80 C345.68,425.27 360.13,423.53 374.60,421.90" stroke="#8c1c1c" stroke-width="2.0" fill="none" stroke-linecap="round" stroke-linejoin="round" />
<path d="M48.70,500.00 C49.30,496.00 49.27,491.71 50.50,488.00 C51.04,486.38 52.52,484.75 54.00,484.00 C55.69,483.15 58.03,483.63 60.00,483.20 C65.50,482.00 70.85,480.02 76.40,479.10 C87.25,477.29 98.32,476.69 109.20,475.00 C119.52,473.39 129.72,471.07 140.00,469.20 C149.35,467.50 158.71,465.82 168.10,464.30 C177.48,462.78 186.92,461.62 196.30,460.10 C205.69,458.58 215.05,456.94 224.40,455.20 C230.05,454.14 235.79,453.25 241.30,451.70 C244.22,450.88 247.13,449.69 249.70,448.10 C253.23,445.92 255.96,442.30 259.60,440.40 C262.80,438.73 266.67,438.42 270.20,437.40 C275.31,435.92 280.38,434.31 285.50,432.90 C290.54,431.51 295.54,429.78 300.70,429.00 C310.77,427.48 321.02,426.83 331.20,426.00 C345.65,424.83 360.13,424.00 374.60,423.00" stroke="#e8262b" stroke-width="2.0" fill="none" stroke-linecap="round" stroke-linejoin="round" />
<path d="M48.70,500.00 C49.30,495.33 49.22,490.36 50.50,486.00 C50.98,484.36 52.53,482.82 54.00,482.00 C55.70,481.05 58.00,481.12 60.00,480.70 C76.40,477.28 92.69,473.16 109.20,470.50 C119.36,468.86 129.79,469.12 140.00,467.80 C149.42,466.58 158.73,464.53 168.10,462.90 C177.50,461.26 186.88,459.52 196.30,458.00 C205.65,456.49 215.24,455.95 224.40,453.80 C229.30,452.65 233.93,450.26 238.50,448.10 C241.43,446.72 243.97,444.56 246.90,443.20 C251.00,441.29 255.28,439.65 259.60,438.30 C263.05,437.22 266.68,436.74 270.20,435.90 C275.31,434.68 280.38,433.26 285.50,432.10 C290.54,430.96 295.58,429.63 300.70,429.00 C310.81,427.76 321.03,427.23 331.20,426.50 C345.66,425.46 360.13,424.63 374.60,423.70" stroke="#f28c28" stroke-width="2.0" fill="none" stroke-linecap="round" stroke-linejoin="round" />
<path d="M48.70,500.00 C49.30,495.00 49.22,489.72 50.50,485.00 C50.98,483.22 52.51,481.55 54.00,480.50 C55.67,479.32 57.97,478.95 60.00,478.30 C65.44,476.55 70.81,474.42 76.40,473.30 C87.21,471.12 98.24,469.83 109.20,468.40 C119.44,467.06 129.73,466.08 140.00,465.00 C149.36,464.01 158.75,463.25 168.10,462.20 C177.51,461.15 186.90,459.87 196.30,458.70 C205.67,457.54 215.01,456.16 224.40,455.20 C234.58,454.16 244.83,453.77 255.00,452.70 C260.09,452.17 265.29,451.65 270.20,450.40 C272.39,449.85 274.44,448.58 276.30,447.30 C278.50,445.78 280.14,443.43 282.40,442.00 C285.74,439.89 289.43,438.22 293.10,436.70 C298.06,434.65 303.16,432.85 308.30,431.30 C313.33,429.78 318.42,428.33 323.60,427.50 C331.12,426.30 338.82,426.11 346.40,425.20 C355.82,424.07 365.20,422.67 374.60,421.40" stroke="#7d1f86" stroke-width="2.0" fill="none" stroke-linecap="round" stroke-linejoin="round" />
<line x1="64.00" y1="495.30" x2="136.00" y2="495.30" stroke="#555" stroke-width="0.9"/>
<line x1="65.00" y1="484.50" x2="136.00" y2="484.50" stroke="#555" stroke-width="0.9"/>
<line x1="87.50" y1="490.00" x2="87.50" y2="487.80" stroke="#111" stroke-width="0.9"/>
<path d="M87.50,484.80 L89.50,488.80 L85.50,488.80 Z" fill="#111"/>
<line x1="87.50" y1="490.00" x2="87.50" y2="492.20" stroke="#111" stroke-width="0.9"/>
<path d="M87.50,495.20 L85.50,491.20 L89.50,491.20 Z" fill="#111"/>
<text x="94.90" y="494.10" font-size="13.4" text-anchor="start" fill="#222" stroke="#222" stroke-width="0.25" font-weight="normal" >0.23 V</text>
<line x1="259.00" y1="472.20" x2="195.89" y2="438.34" stroke="#222" stroke-width="0.9"/>
<path d="M190.60,435.50 L198.00,436.52 L195.54,441.10 Z" fill="#222"/>
<path d=" M202.83,489.90 L201.67,489.90 L201.67,482.51 C201.39,482.77 201.02,483.04 200.57,483.30 C200.12,483.56 199.71,483.76 199.36,483.89 L199.36,482.77 C200.01,482.47 200.58,482.09 201.06,481.66 C201.55,481.23 201.89,480.81 202.09,480.41 L202.83,480.41 Z" fill="#151515" stroke="#151515" stroke-width="0.25"/>
<text x="205.54" y="484.30" font-size="8.2" fill="#151515" stroke="#151515" stroke-width="0.25">st</text>
<text x="215.50" y="489.90" font-size="13.2" fill="#2424e6" stroke="#2424e6" stroke-width="0.25" text-anchor="start">5<tspan font-size="8.2" dy="-5.6">th</tspan></text>
<text x="233.90" y="489.90" font-size="13.2" fill="#1f7d22" stroke="#1f7d22" stroke-width="0.25" text-anchor="start">10<tspan font-size="8.2" dy="-5.6">th</tspan></text>
<text x="258.80" y="489.90" font-size="13.2" fill="#e8262b" stroke="#e8262b" stroke-width="0.25" text-anchor="start">50<tspan font-size="8.2" dy="-5.6">th</tspan></text>
<text x="284.90" y="489.90" font-size="13.2" fill="#8c1c1c" stroke="#8c1c1c" stroke-width="0.25" text-anchor="start">100<tspan font-size="8.2" dy="-5.6">th</tspan></text>
<text x="318.40" y="489.90" font-size="13.2" fill="#f28c28" stroke="#f28c28" stroke-width="0.25" text-anchor="start">150<tspan font-size="8.2" dy="-5.6">th</tspan></text>
<text x="349.70" y="489.90" font-size="13.2" fill="#7d1f86" stroke="#7d1f86" stroke-width="0.25" text-anchor="start">200<tspan font-size="8.2" dy="-5.6">th</tspan></text>
<g fill="#f21c1c" stroke="#d01010" stroke-width="0.5"><circle cx="462.24" cy="474.66" r="3.8"/><circle cx="463.86" cy="474.44" r="3.8"/><circle cx="465.48" cy="474.22" r="3.8"/><circle cx="467.11" cy="474.00" r="3.8"/><circle cx="468.73" cy="473.77" r="3.8"/><circle cx="470.35" cy="473.58" r="3.8"/><circle cx="471.97" cy="473.49" r="3.8"/><circle cx="473.60" cy="473.40" r="3.8"/><circle cx="475.22" cy="473.31" r="3.8"/><circle cx="476.84" cy="473.22" r="3.8"/><circle cx="478.47" cy="473.13" r="3.8"/><circle cx="480.09" cy="473.17" r="3.8"/><circle cx="481.71" cy="473.27" r="3.8"/><circle cx="483.33" cy="473.38" r="3.8"/><circle cx="484.96" cy="473.48" r="3.8"/><circle cx="486.58" cy="473.58" r="3.8"/><circle cx="488.20" cy="473.69" r="3.8"/><circle cx="489.83" cy="473.79" r="3.8"/><circle cx="491.45" cy="473.92" r="3.8"/><circle cx="493.07" cy="474.05" r="3.8"/><circle cx="494.69" cy="474.18" r="3.8"/><circle cx="496.32" cy="474.31" r="3.8"/><circle cx="497.94" cy="474.44" r="3.8"/><circle cx="499.56" cy="474.57" r="3.8"/><circle cx="501.19" cy="474.69" r="3.8"/><circle cx="502.81" cy="474.82" r="3.8"/><circle cx="504.43" cy="474.95" r="3.8"/><circle cx="506.05" cy="475.01" r="3.8"/><circle cx="507.68" cy="475.03" r="3.8"/><circle cx="509.30" cy="475.05" r="3.8"/><circle cx="510.92" cy="475.08" r="3.8"/><circle cx="512.55" cy="475.10" r="3.8"/><circle cx="514.17" cy="475.12" r="3.8"/><circle cx="515.79" cy="475.14" r="3.8"/><circle cx="517.41" cy="475.16" r="3.8"/><circle cx="519.04" cy="475.18" r="3.8"/><circle cx="520.66" cy="475.20" r="3.8"/><circle cx="522.28" cy="475.22" r="3.8"/><circle cx="523.91" cy="475.24" r="3.8"/><circle cx="525.53" cy="475.26" r="3.8"/><circle cx="527.15" cy="475.28" r="3.8"/><circle cx="528.77" cy="475.30" r="3.8"/><circle cx="530.40" cy="475.32" r="3.8"/><circle cx="532.02" cy="475.34" r="3.8"/><circle cx="533.64" cy="475.36" r="3.8"/><circle cx="535.27" cy="475.39" r="3.8"/><circle cx="536.89" cy="475.41" r="3.8"/><circle cx="538.51" cy="475.43" r="3.8"/><circle cx="540.13" cy="475.45" r="3.8"/><circle cx="541.76" cy="475.47" r="3.8"/><circle cx="543.38" cy="475.49" r="3.8"/><circle cx="545.00" cy="475.51" r="3.8"/><circle cx="546.63" cy="475.53" r="3.8"/><circle cx="548.25" cy="475.55" r="3.8"/><circle cx="549.87" cy="475.57" r="3.8"/><circle cx="551.49" cy="475.59" r="3.8"/><circle cx="553.12" cy="475.61" r="3.8"/><circle cx="554.74" cy="475.63" r="3.8"/><circle cx="556.36" cy="475.65" r="3.8"/><circle cx="557.99" cy="475.67" r="3.8"/><circle cx="559.61" cy="475.70" r="3.8"/><circle cx="561.23" cy="475.71" r="3.8"/><circle cx="562.85" cy="475.73" r="3.8"/><circle cx="564.48" cy="475.75" r="3.8"/><circle cx="566.10" cy="475.77" r="3.8"/><circle cx="567.72" cy="475.79" r="3.8"/><circle cx="569.35" cy="475.81" r="3.8"/><circle cx="570.97" cy="475.82" r="3.8"/><circle cx="572.59" cy="475.84" r="3.8"/><circle cx="574.21" cy="475.86" r="3.8"/><circle cx="575.84" cy="475.88" r="3.8"/><circle cx="577.46" cy="475.90" r="3.8"/><circle cx="579.08" cy="475.91" r="3.8"/><circle cx="580.71" cy="475.93" r="3.8"/><circle cx="582.33" cy="475.95" r="3.8"/><circle cx="583.95" cy="475.97" r="3.8"/><circle cx="585.57" cy="475.99" r="3.8"/><circle cx="587.20" cy="476.01" r="3.8"/><circle cx="588.82" cy="476.02" r="3.8"/><circle cx="590.44" cy="476.04" r="3.8"/><circle cx="592.07" cy="476.06" r="3.8"/><circle cx="593.69" cy="476.08" r="3.8"/><circle cx="595.31" cy="476.10" r="3.8"/><circle cx="596.93" cy="476.12" r="3.8"/><circle cx="598.56" cy="476.13" r="3.8"/><circle cx="600.18" cy="476.15" r="3.8"/><circle cx="601.80" cy="476.17" r="3.8"/><circle cx="603.43" cy="476.19" r="3.8"/><circle cx="605.05" cy="476.21" r="3.8"/><circle cx="606.67" cy="476.23" r="3.8"/><circle cx="608.29" cy="476.24" r="3.8"/><circle cx="609.92" cy="476.26" r="3.8"/><circle cx="611.54" cy="476.28" r="3.8"/><circle cx="613.16" cy="476.30" r="3.8"/><circle cx="614.79" cy="476.32" r="3.8"/><circle cx="616.41" cy="476.33" r="3.8"/><circle cx="618.03" cy="476.35" r="3.8"/><circle cx="619.65" cy="476.37" r="3.8"/><circle cx="621.28" cy="476.39" r="3.8"/><circle cx="622.90" cy="476.41" r="3.8"/><circle cx="624.52" cy="476.43" r="3.8"/><circle cx="626.15" cy="476.44" r="3.8"/><circle cx="627.77" cy="476.46" r="3.8"/><circle cx="629.39" cy="476.48" r="3.8"/><circle cx="631.01" cy="476.50" r="3.8"/><circle cx="632.64" cy="476.52" r="3.8"/><circle cx="634.26" cy="476.54" r="3.8"/><circle cx="635.88" cy="476.55" r="3.8"/><circle cx="637.51" cy="476.57" r="3.8"/><circle cx="639.13" cy="476.59" r="3.8"/><circle cx="640.75" cy="476.61" r="3.8"/><circle cx="642.37" cy="476.63" r="3.8"/><circle cx="644.00" cy="476.64" r="3.8"/><circle cx="645.62" cy="476.66" r="3.8"/><circle cx="647.24" cy="476.68" r="3.8"/><circle cx="648.87" cy="476.70" r="3.8"/><circle cx="650.49" cy="476.72" r="3.8"/><circle cx="652.11" cy="476.74" r="3.8"/><circle cx="653.73" cy="476.75" r="3.8"/><circle cx="655.36" cy="476.77" r="3.8"/><circle cx="656.98" cy="476.79" r="3.8"/><circle cx="658.60" cy="476.81" r="3.8"/><circle cx="660.23" cy="476.83" r="3.8"/><circle cx="661.85" cy="476.85" r="3.8"/><circle cx="663.47" cy="476.86" r="3.8"/><circle cx="665.09" cy="476.88" r="3.8"/><circle cx="666.72" cy="476.90" r="3.8"/><circle cx="668.34" cy="476.92" r="3.8"/><circle cx="669.96" cy="476.94" r="3.8"/><circle cx="671.59" cy="476.96" r="3.8"/><circle cx="673.21" cy="476.97" r="3.8"/><circle cx="674.83" cy="476.99" r="3.8"/><circle cx="676.45" cy="477.01" r="3.8"/><circle cx="678.08" cy="477.03" r="3.8"/><circle cx="679.70" cy="477.05" r="3.8"/><circle cx="681.32" cy="477.06" r="3.8"/><circle cx="682.95" cy="477.08" r="3.8"/><circle cx="684.57" cy="477.10" r="3.8"/><circle cx="686.19" cy="477.12" r="3.8"/><circle cx="687.81" cy="477.14" r="3.8"/><circle cx="689.44" cy="477.16" r="3.8"/><circle cx="691.06" cy="477.17" r="3.8"/><circle cx="692.68" cy="477.19" r="3.8"/><circle cx="694.31" cy="477.21" r="3.8"/><circle cx="695.93" cy="477.23" r="3.8"/><circle cx="697.55" cy="477.25" r="3.8"/><circle cx="699.17" cy="477.27" r="3.8"/><circle cx="700.80" cy="477.28" r="3.8"/><circle cx="702.42" cy="477.30" r="3.8"/><circle cx="704.04" cy="477.32" r="3.8"/><circle cx="705.67" cy="477.34" r="3.8"/><circle cx="707.29" cy="477.36" r="3.8"/><circle cx="708.91" cy="477.38" r="3.8"/><circle cx="710.53" cy="477.39" r="3.8"/><circle cx="712.16" cy="477.41" r="3.8"/><circle cx="713.78" cy="477.43" r="3.8"/><circle cx="715.40" cy="477.45" r="3.8"/><circle cx="717.03" cy="477.47" r="3.8"/><circle cx="718.65" cy="477.48" r="3.8"/><circle cx="720.27" cy="477.50" r="3.8"/><circle cx="721.89" cy="477.53" r="3.8"/><circle cx="723.52" cy="477.55" r="3.8"/><circle cx="725.14" cy="477.57" r="3.8"/><circle cx="726.76" cy="477.59" r="3.8"/><circle cx="728.39" cy="477.62" r="3.8"/><circle cx="730.01" cy="477.64" r="3.8"/><circle cx="731.63" cy="477.66" r="3.8"/><circle cx="733.25" cy="477.68" r="3.8"/><circle cx="734.88" cy="477.71" r="3.8"/><circle cx="736.50" cy="477.73" r="3.8"/><circle cx="738.12" cy="477.75" r="3.8"/><circle cx="739.75" cy="477.77" r="3.8"/><circle cx="741.37" cy="477.80" r="3.8"/><circle cx="742.99" cy="477.82" r="3.8"/><circle cx="744.61" cy="477.84" r="3.8"/><circle cx="746.24" cy="477.86" r="3.8"/><circle cx="747.86" cy="477.89" r="3.8"/><circle cx="749.48" cy="477.91" r="3.8"/><circle cx="751.11" cy="477.93" r="3.8"/><circle cx="752.73" cy="477.95" r="3.8"/><circle cx="754.35" cy="477.97" r="3.8"/><circle cx="755.97" cy="478.00" r="3.8"/><circle cx="757.60" cy="478.02" r="3.8"/><circle cx="759.22" cy="478.04" r="3.8"/><circle cx="760.84" cy="478.06" r="3.8"/><circle cx="762.47" cy="478.09" r="3.8"/><circle cx="764.09" cy="478.11" r="3.8"/><circle cx="765.71" cy="478.13" r="3.8"/><circle cx="767.33" cy="478.15" r="3.8"/><circle cx="768.96" cy="478.18" r="3.8"/><circle cx="770.58" cy="478.20" r="3.8"/><circle cx="772.20" cy="478.22" r="3.8"/><circle cx="773.83" cy="478.24" r="3.8"/><circle cx="775.45" cy="478.27" r="3.8"/><circle cx="777.07" cy="478.29" r="3.8"/><circle cx="778.69" cy="478.31" r="3.8"/><circle cx="780.32" cy="478.33" r="3.8"/><circle cx="781.94" cy="478.36" r="3.8"/><circle cx="783.56" cy="478.38" r="3.8"/><circle cx="785.19" cy="478.40" r="3.8"/></g>
<path d="M463.86,473.24 L468.73,472.57 L473.60,472.20 L478.47,471.93 L483.33,472.18 L488.20,472.49 L493.07,472.85 L497.94,473.24 L502.81,473.62 L507.68,473.83 L512.55,473.90 L517.41,473.96 L522.28,474.02 L527.15,474.08 L532.02,474.14 L536.89,474.21 L541.76,474.27 L546.63,474.33 L551.49,474.39 L556.36,474.45 L561.23,474.51 L566.10,474.57 L570.97,474.62 L575.84,474.68 L580.71,474.73 L585.57,474.79 L590.44,474.84 L595.31,474.90 L600.18,474.95 L605.05,475.01 L609.92,475.06 L614.79,475.12 L619.65,475.17 L624.52,475.23 L629.39,475.28 L634.26,475.34 L639.13,475.39 L644.00,475.44 L648.87,475.50 L653.73,475.55 L658.60,475.61 L663.47,475.66 L668.34,475.72 L673.21,475.77 L678.08,475.83 L682.95,475.88 L687.81,475.94 L692.68,475.99 L697.55,476.05 L702.42,476.10 L707.29,476.16 L712.16,476.21 L717.03,476.27 L721.89,476.33 L726.76,476.39 L731.63,476.46 L736.50,476.53 L741.37,476.60 L746.24,476.66 L751.11,476.73 L755.97,476.80 L760.84,476.86 L765.71,476.93 L770.58,477.00 L775.45,477.07 L780.32,477.13" stroke="#ff8080" stroke-width="1" stroke-dasharray="2 1.5" opacity="0.5" fill="none"/>
<g fill="#2222ee" stroke="#1414c0" stroke-width="0.5"><circle cx="462.24" cy="425.60" r="3.7"/><circle cx="463.86" cy="425.60" r="3.7"/><circle cx="465.48" cy="425.60" r="3.7"/><circle cx="467.11" cy="425.60" r="3.7"/><circle cx="468.73" cy="425.60" r="3.7"/><circle cx="470.35" cy="425.60" r="3.7"/><circle cx="471.97" cy="425.60" r="3.7"/><circle cx="473.60" cy="425.60" r="3.7"/><circle cx="475.22" cy="425.60" r="3.7"/><circle cx="476.84" cy="425.60" r="3.7"/><circle cx="478.47" cy="425.60" r="3.7"/><circle cx="480.09" cy="425.60" r="3.7"/><circle cx="481.71" cy="425.60" r="3.7"/><circle cx="483.33" cy="425.60" r="3.7"/><circle cx="484.96" cy="425.60" r="3.7"/><circle cx="486.58" cy="425.60" r="3.7"/><circle cx="488.20" cy="425.60" r="3.7"/><circle cx="489.83" cy="425.60" r="3.7"/><circle cx="491.45" cy="425.60" r="3.7"/><circle cx="493.07" cy="425.60" r="3.7"/><circle cx="494.69" cy="425.60" r="3.7"/><circle cx="496.32" cy="425.60" r="3.7"/><circle cx="497.94" cy="425.60" r="3.7"/><circle cx="499.56" cy="425.60" r="3.7"/><circle cx="501.19" cy="425.60" r="3.7"/><circle cx="502.81" cy="425.60" r="3.7"/><circle cx="504.43" cy="425.60" r="3.7"/><circle cx="506.05" cy="425.60" r="3.7"/><circle cx="507.68" cy="425.60" r="3.7"/><circle cx="509.30" cy="425.60" r="3.7"/><circle cx="510.92" cy="425.60" r="3.7"/><circle cx="512.55" cy="425.60" r="3.7"/><circle cx="514.17" cy="425.60" r="3.7"/><circle cx="515.79" cy="425.60" r="3.7"/><circle cx="517.41" cy="425.60" r="3.7"/><circle cx="519.04" cy="425.60" r="3.7"/><circle cx="520.66" cy="425.10" r="3.7"/><circle cx="522.28" cy="425.60" r="3.7"/><circle cx="523.91" cy="425.60" r="3.7"/><circle cx="525.53" cy="425.60" r="3.7"/><circle cx="527.15" cy="425.60" r="3.7"/><circle cx="528.77" cy="425.60" r="3.7"/><circle cx="530.40" cy="425.60" r="3.7"/><circle cx="532.02" cy="425.60" r="3.7"/><circle cx="533.64" cy="425.60" r="3.7"/><circle cx="535.27" cy="425.60" r="3.7"/><circle cx="536.89" cy="425.60" r="3.7"/><circle cx="538.51" cy="425.60" r="3.7"/><circle cx="540.13" cy="425.60" r="3.7"/><circle cx="541.76" cy="425.60" r="3.7"/><circle cx="543.38" cy="425.60" r="3.7"/><circle cx="545.00" cy="425.60" r="3.7"/><circle cx="546.63" cy="425.60" r="3.7"/><circle cx="548.25" cy="425.60" r="3.7"/><circle cx="549.87" cy="425.60" r="3.7"/><circle cx="551.49" cy="425.60" r="3.7"/><circle cx="553.12" cy="425.60" r="3.7"/><circle cx="554.74" cy="425.60" r="3.7"/><circle cx="556.36" cy="425.60" r="3.7"/><circle cx="557.99" cy="425.60" r="3.7"/><circle cx="559.61" cy="425.60" r="3.7"/><circle cx="561.23" cy="425.60" r="3.7"/><circle cx="562.85" cy="425.60" r="3.7"/><circle cx="564.48" cy="425.60" r="3.7"/><circle cx="566.10" cy="425.60" r="3.7"/><circle cx="567.72" cy="425.60" r="3.7"/><circle cx="569.35" cy="425.60" r="3.7"/><circle cx="570.97" cy="425.60" r="3.7"/><circle cx="572.59" cy="425.60" r="3.7"/><circle cx="574.21" cy="425.60" r="3.7"/><circle cx="575.84" cy="425.60" r="3.7"/><circle cx="577.46" cy="425.60" r="3.7"/><circle cx="579.08" cy="425.60" r="3.7"/><circle cx="580.71" cy="425.60" r="3.7"/><circle cx="582.33" cy="425.60" r="3.7"/><circle cx="583.95" cy="425.60" r="3.7"/><circle cx="585.57" cy="425.60" r="3.7"/><circle cx="587.20" cy="425.60" r="3.7"/><circle cx="588.82" cy="425.60" r="3.7"/><circle cx="590.44" cy="425.60" r="3.7"/><circle cx="592.07" cy="425.60" r="3.7"/><circle cx="593.69" cy="425.60" r="3.7"/><circle cx="595.31" cy="425.60" r="3.7"/><circle cx="596.93" cy="425.60" r="3.7"/><circle cx="598.56" cy="425.60" r="3.7"/><circle cx="600.18" cy="425.60" r="3.7"/><circle cx="601.80" cy="425.60" r="3.7"/><circle cx="603.43" cy="425.60" r="3.7"/><circle cx="605.05" cy="425.60" r="3.7"/><circle cx="606.67" cy="425.60" r="3.7"/><circle cx="608.29" cy="425.60" r="3.7"/><circle cx="609.92" cy="425.60" r="3.7"/><circle cx="611.54" cy="425.60" r="3.7"/><circle cx="613.16" cy="425.60" r="3.7"/><circle cx="614.79" cy="425.60" r="3.7"/><circle cx="616.41" cy="425.60" r="3.7"/><circle cx="618.03" cy="425.60" r="3.7"/><circle cx="619.65" cy="425.60" r="3.7"/><circle cx="621.28" cy="425.60" r="3.7"/><circle cx="622.90" cy="425.60" r="3.7"/><circle cx="624.52" cy="425.60" r="3.7"/><circle cx="626.15" cy="425.60" r="3.7"/><circle cx="627.77" cy="425.60" r="3.7"/><circle cx="629.39" cy="425.60" r="3.7"/><circle cx="631.01" cy="425.60" r="3.7"/><circle cx="632.64" cy="425.60" r="3.7"/><circle cx="634.26" cy="425.60" r="3.7"/><circle cx="635.88" cy="425.60" r="3.7"/><circle cx="637.51" cy="425.60" r="3.7"/><circle cx="639.13" cy="425.60" r="3.7"/><circle cx="640.75" cy="425.60" r="3.7"/><circle cx="642.37" cy="425.60" r="3.7"/><circle cx="644.00" cy="425.60" r="3.7"/><circle cx="645.62" cy="425.60" r="3.7"/><circle cx="647.24" cy="425.60" r="3.7"/><circle cx="648.87" cy="425.60" r="3.7"/><circle cx="650.49" cy="425.60" r="3.7"/><circle cx="652.11" cy="425.60" r="3.7"/><circle cx="653.73" cy="425.60" r="3.7"/><circle cx="655.36" cy="425.60" r="3.7"/><circle cx="656.98" cy="425.60" r="3.7"/><circle cx="658.60" cy="425.60" r="3.7"/><circle cx="660.23" cy="425.60" r="3.7"/><circle cx="661.85" cy="425.60" r="3.7"/><circle cx="663.47" cy="425.60" r="3.7"/><circle cx="665.09" cy="425.60" r="3.7"/><circle cx="666.72" cy="425.60" r="3.7"/><circle cx="668.34" cy="425.60" r="3.7"/><circle cx="669.96" cy="425.60" r="3.7"/><circle cx="671.59" cy="425.60" r="3.7"/><circle cx="673.21" cy="425.60" r="3.7"/><circle cx="674.83" cy="425.60" r="3.7"/><circle cx="676.45" cy="425.60" r="3.7"/><circle cx="678.08" cy="425.60" r="3.7"/><circle cx="679.70" cy="425.60" r="3.7"/><circle cx="681.32" cy="425.60" r="3.7"/><circle cx="682.95" cy="425.60" r="3.7"/><circle cx="684.57" cy="425.60" r="3.7"/><circle cx="686.19" cy="425.60" r="3.7"/><circle cx="687.81" cy="425.60" r="3.7"/><circle cx="689.44" cy="425.60" r="3.7"/><circle cx="691.06" cy="425.60" r="3.7"/><circle cx="692.68" cy="425.60" r="3.7"/><circle cx="694.31" cy="425.60" r="3.7"/><circle cx="695.93" cy="425.60" r="3.7"/><circle cx="697.55" cy="425.60" r="3.7"/><circle cx="699.17" cy="425.60" r="3.7"/><circle cx="700.80" cy="425.60" r="3.7"/><circle cx="702.42" cy="426.40" r="3.7"/><circle cx="704.04" cy="426.40" r="3.7"/><circle cx="705.67" cy="426.40" r="3.7"/><circle cx="707.29" cy="426.40" r="3.7"/><circle cx="708.91" cy="425.60" r="3.7"/><circle cx="710.53" cy="425.60" r="3.7"/><circle cx="712.16" cy="425.60" r="3.7"/><circle cx="713.78" cy="425.60" r="3.7"/><circle cx="715.40" cy="425.60" r="3.7"/><circle cx="717.03" cy="425.60" r="3.7"/><circle cx="718.65" cy="425.60" r="3.7"/><circle cx="720.27" cy="425.60" r="3.7"/><circle cx="721.89" cy="425.60" r="3.7"/><circle cx="723.52" cy="425.60" r="3.7"/><circle cx="725.14" cy="425.60" r="3.7"/><circle cx="726.76" cy="425.60" r="3.7"/><circle cx="728.39" cy="425.60" r="3.7"/><circle cx="730.01" cy="425.60" r="3.7"/><circle cx="731.63" cy="425.60" r="3.7"/><circle cx="733.25" cy="425.60" r="3.7"/><circle cx="734.88" cy="425.60" r="3.7"/><circle cx="736.50" cy="425.60" r="3.7"/><circle cx="738.12" cy="425.60" r="3.7"/><circle cx="739.75" cy="425.60" r="3.7"/><circle cx="741.37" cy="425.60" r="3.7"/><circle cx="742.99" cy="425.60" r="3.7"/><circle cx="744.61" cy="425.60" r="3.7"/><circle cx="746.24" cy="425.60" r="3.7"/><circle cx="747.86" cy="425.60" r="3.7"/><circle cx="749.48" cy="425.60" r="3.7"/><circle cx="751.11" cy="425.60" r="3.7"/><circle cx="752.73" cy="425.60" r="3.7"/><circle cx="754.35" cy="425.60" r="3.7"/><circle cx="755.97" cy="425.60" r="3.7"/><circle cx="757.60" cy="425.60" r="3.7"/><circle cx="759.22" cy="425.60" r="3.7"/><circle cx="760.84" cy="425.60" r="3.7"/><circle cx="762.47" cy="425.60" r="3.7"/><circle cx="764.09" cy="425.60" r="3.7"/><circle cx="765.71" cy="425.60" r="3.7"/><circle cx="767.33" cy="425.60" r="3.7"/><circle cx="768.96" cy="425.60" r="3.7"/><circle cx="770.58" cy="425.60" r="3.7"/><circle cx="772.20" cy="425.60" r="3.7"/><circle cx="773.83" cy="425.60" r="3.7"/><circle cx="775.45" cy="425.60" r="3.7"/><circle cx="777.07" cy="425.60" r="3.7"/><circle cx="778.69" cy="425.60" r="3.7"/><circle cx="780.32" cy="425.60" r="3.7"/><circle cx="781.94" cy="425.60" r="3.7"/><circle cx="783.56" cy="425.60" r="3.7"/><circle cx="785.19" cy="425.60" r="3.7"/></g>
<path d="M463,424.3 L783,424.3" stroke="#7a7aff" stroke-width="1" stroke-dasharray="2 1.5" opacity="0.55" fill="none"/>
<path d="M548.5,485.5 C544,500 520,507 472,511.2" stroke="#e33" stroke-width="0.9" fill="none"/>
<path d="M469.30,511.30 L475.12,508.49 L475.45,513.28 Z" fill="#e33"/>
<path d="M697.6,418.3 C705,400 740,393.4 772,393.4" stroke="#4a86c8" stroke-width="0.9" fill="none"/>
<path d="M777.10,393.40 L771.10,395.80 L771.10,391.00 Z" fill="#4a86c8"/>
</svg></body></html>
